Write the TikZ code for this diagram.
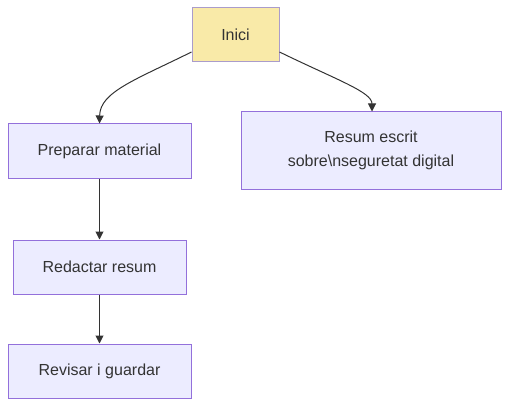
\documentclass[tikz,border=0pt]{standalone}
\usepackage{fontspec}
\setmainfont{Liberation Sans}
\usetikzlibrary{arrows.meta}
\definecolor{boxfill}{HTML}{ECECFF}
\definecolor{boxline}{HTML}{9370DB}
\definecolor{startfill}{HTML}{F9EAA8}
\definecolor{startline}{HTML}{AA9CCB}
\definecolor{txt}{HTML}{333333}
\tikzset{
  flowbox/.style={draw=boxline, fill=boxfill, line width=1pt, inner sep=0pt,
    font=\fontsize{16}{24}\selectfont, text=txt, align=center},
  startbox/.style={flowbox, draw=startline, fill=startfill},
  link/.style={draw=txt, line width=1pt, -{Triangle[length=8pt,width=8pt]}}
}
\begin{document}
\begin{tikzpicture}[x=1pt,y=-1pt]
\useasboundingbox (0,0) rectangle (510,406);
\node[startbox, minimum width=87pt, minimum height=54pt] (inici) at (235.5,35) {Inici};
\node[flowbox, minimum width=183pt, minimum height=54pt] (prep) at (99.5,151) {Preparar material};
\node[flowbox, minimum width=260pt, minimum height=77pt] (resum) at (371,150.5) {Resum escrit\\sobre\textbackslash nseguretat digital};
\node[flowbox, minimum width=173pt, minimum height=54pt] (red) at (99.5,267) {Redactar resum};
\node[flowbox, minimum width=183pt, minimum height=54pt] (rev) at (99.5,371) {Revisar i guardar};
\coordinate (a1) at ([yshift=-17pt]inici.west);
\coordinate (a2) at ([yshift=-17pt]inici.east);
\draw[link] (a1) .. controls (135,80) and (100,92) .. (prep.north);
\draw[link] (a2) .. controls (337,80) and (372,92) .. ([xshift=1pt]resum.north);
\draw[link] (prep) -- (red);
\draw[link] (red) -- (rev);
\end{tikzpicture}
\end{document}
